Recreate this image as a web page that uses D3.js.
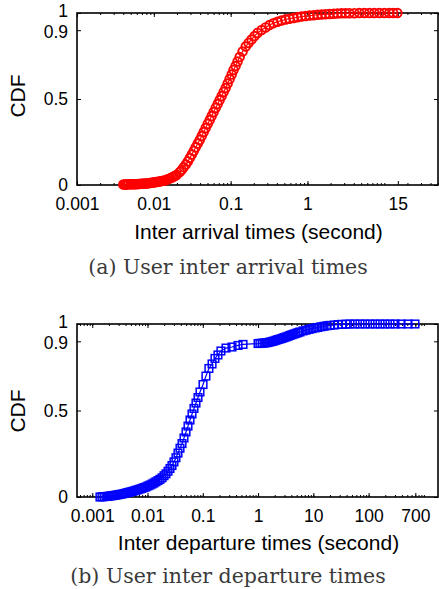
<!DOCTYPE html>
<html>
<head>
<meta charset="utf-8">
<script src="https://cdn.jsdelivr.net/npm/d3@7"></script>
<style>
  body { margin: 0; background: #fff; }
  .tick text { font-family: "Liberation Sans", Arial, sans-serif; font-size: 17.5px; fill: #000; }
  .lbl { font-family: "Liberation Sans", Arial, sans-serif; font-size: 21px; fill: #000; }
  .cap { font-family: "DejaVu Serif", serif; font-size: 20.5px; fill: #3a3a3a; }
</style>
</head>
<body>
<div id="fig"></div>
<script>
// values

// (a) inter arrival times
var arrivalTime = [0.0040,0.0042,0.0043,0.0045,0.0047,0.0050,0.0052,0.0055,0.0057,0.0060,0.0062,0.0065,0.0068,0.0071,0.0074,0.0078,0.0081,0.0085,0.0089,0.0093,0.0097,
  0.0101,0.0106,0.0111,0.0116,0.0121,0.0127,0.0133,0.0139,0.0145,0.0152,0.0159,0.0166,0.0174,0.0182,0.0190,0.0199,
  0.0218,0.0231,0.0245,0.0261,0.0277,0.0294,0.0312,0.0331,0.0351,0.0373,0.0396,
  0.0420,0.0446,0.0473,0.0502,0.0534,0.0566,0.0601,0.0638,0.0678,0.0719,0.0764,0.0811,0.0861,0.0914,0.0970,
  0.103,0.109,0.116,0.123,0.131,0.143,0.157,0.171,0.187,0.205,0.224,0.253,0.285,0.321,0.361,0.407,0.459,0.518,0.583,0.658,0.741,0.835,0.942,
  1.06,1.20,1.35,1.52,1.71,1.93,2.18,2.45,2.77,3.12,3.51,4.07,4.73,5.50,6.38,7.41,8.60,10.0,11.6,13.1,14.8];
var arrivalCdf = [0.003,0.003,0.003,0.003,0.004,0.004,0.004,0.004,0.005,0.005,0.006,0.006,0.007,0.007,0.008,0.008,0.009,0.010,0.012,0.013,0.014,
  0.015,0.017,0.018,0.020,0.021,0.023,0.024,0.026,0.029,0.033,0.037,0.041,0.045,0.049,0.054,0.059,
  0.076,0.088,0.103,0.119,0.137,0.157,0.177,0.198,0.219,0.241,0.262,
  0.285,0.308,0.331,0.355,0.378,0.401,0.424,0.448,0.471,0.494,0.517,0.541,0.564,0.590,0.616,
  0.642,0.669,0.692,0.718,0.744,0.776,0.805,0.826,0.846,0.866,0.884,0.901,0.916,0.930,0.941,0.949,0.956,0.962,0.967,0.971,0.975,0.979,0.982,
  0.985,0.987,0.990,0.991,0.993,0.994,0.995,0.997,0.998,0.998,0.999,0.999,1,1,1,1,1,1,1,1,1];

// (b) inter departure times
var departureTime = [0.00138,0.00150,0.00163,0.00177,0.00193,0.00210,0.00228,0.00247,0.00269,0.00292,0.00318,0.00345,
  0.00375,0.00408,0.00443,0.00482,0.00524,0.00569,0.00619,0.00673,0.00731,0.00794,0.00863,0.00938,
  0.0102,0.0111,0.0121,0.0131,0.0142,0.0155,0.0168,0.0183,0.0199,0.0216,0.0235,0.0255,0.0277,0.0301,
  0.0327,0.0356,0.0387,0.0421,0.0457,0.0497,0.0540,0.0587,0.0638,0.0693,0.0753,0.0819,0.0890,
  0.101,0.114,0.129,0.147,0.166,0.188,0.213,0.263,0.338,0.434,0.534,
  1.00,1.08,1.18,1.28,1.39,1.51,1.64,1.79,1.94,2.11,2.29,2.49,2.71,2.94,3.20,3.48,3.78,4.11,4.47,4.86,5.28,5.74,
  6.50,7.36,8.35,9.46,10.7,12.1,13.8,15.6,17.7,20.0,
  23.7,27.9,33.0,39.0,46.0,
  56.7,69.8,86.1,106,131,161,198,244,300,386,516,690];
var departureCdf = [0.000,0.001,0.002,0.003,0.004,0.006,0.007,0.009,0.011,0.013,0.015,0.017,
  0.020,0.023,0.026,0.029,0.032,0.035,0.039,0.042,0.046,0.050,0.054,0.058,
  0.064,0.069,0.075,0.081,0.088,0.095,0.102,0.111,0.123,0.134,0.149,0.165,0.182,0.203,
  0.227,0.254,0.282,0.309,0.341,0.376,0.410,0.445,0.480,0.512,0.543,0.575,0.607,
  0.650,0.699,0.743,0.769,0.801,0.821,0.844,0.861,0.867,0.876,0.882,
  0.887,0.888,0.889,0.890,0.891,0.893,0.896,0.899,0.902,0.906,0.910,0.913,0.917,0.921,0.925,0.929,0.934,0.938,0.942,0.946,0.950,0.954,
  0.960,0.964,0.969,0.973,0.977,0.980,0.984,0.987,0.990,0.992,
  0.994,0.997,0.998,0.999,1,
  1,1,1,1,1,1,1,1,1,1,1,1];

// ticks
var arrivalTicks = [0.001, 0.01, 0.1, 1, 15];
var arrivalTickLabels = ["0.001", "0.01", "0.1", "1", "15"];
var departureTicks = [0.001, 0.01, 0.1, 1, 10, 100, 700];
var departureTickLabels = ["0.001", "0.01", "0.1", "1", "10", "100", "700"];
var cdfTicks = [0, 0.5, 0.9, 1];
var cdfTickLabels = ["0", "0.5", "0.9", "1"];

var width = 439, height = 589;

var svg = d3.select("#fig").append("svg")
  .attr("width", width)
  .attr("height", height);

// draws one panel of the figure
function drawPanel(p) {
  var xScale = d3.scaleLog().domain(p.xDomain).range([p.left, p.right]);
  var yScale = d3.scaleLinear().domain([0, 1]).range([p.bottom, p.top]);
  var g = svg.append("g");

  // minor log ticks, top and bottom
  var minor = xScale.ticks();
  g.append("g").attr("transform", "translate(0," + p.bottom + ")")
    .call(d3.axisBottom(xScale).tickValues(minor).tickFormat("").tickSizeInner(-2).tickSizeOuter(0));
  g.append("g").attr("transform", "translate(0," + p.top + ")")
    .call(d3.axisTop(xScale).tickValues(minor).tickFormat("").tickSizeInner(-2).tickSizeOuter(0));

  // major ticks
  g.append("g").attr("transform", "translate(0," + p.bottom + ")")
    .call(d3.axisBottom(xScale).tickValues(p.xTicks)
      .tickFormat(function(d, i) { return p.xLabels[i]; })
      .tickSizeInner(-4).tickSizeOuter(0).tickPadding(13));
  g.append("g").attr("transform", "translate(0," + p.top + ")")
    .call(d3.axisTop(xScale).tickValues(p.xTicks).tickFormat("").tickSizeInner(-4).tickSizeOuter(0));
  var yAx = g.append("g").attr("transform", "translate(" + p.left + ",0)")
    .call(d3.axisLeft(yScale).tickValues(cdfTicks)
      .tickFormat(function(d, i) { return cdfTickLabels[i]; })
      .tickSizeInner(-4).tickSizeOuter(0).tickPadding(9));
  // "1" and "0.9" sit close together, nudge them apart like the original
  yAx.selectAll(".tick text")
    .attr("dy", function(d) { return d === 1 ? "0.2em" : d === 0.9 ? "0.4em" : "0.32em"; });
  g.append("g").attr("transform", "translate(" + p.right + ",0)")
    .call(d3.axisRight(yScale).tickValues(cdfTicks).tickFormat("").tickSizeInner(-4).tickSizeOuter(0));

  g.selectAll(".domain").remove();
  g.selectAll(".tick line").attr("stroke", "#000").attr("stroke-width", 1);

  // box
  g.append("rect")
    .attr("x", p.left).attr("y", p.top)
    .attr("width", p.right - p.left).attr("height", p.bottom - p.top)
    .attr("fill", "none").attr("stroke", "#000").attr("stroke-width", 1.6);

  var pts = p.xs.map(function(x, i) { return [x, p.ys[i]]; });

  g.append("path")
    .datum(pts)
    .attr("fill", "none")
    .attr("stroke", p.color)
    .attr("stroke-width", 1.2)
    .attr("d", d3.line()
      .x(function(d) { return xScale(d[0]); })
      .y(function(d) { return yScale(d[1]); }));

  if (p.marker === "circle") {
    g.selectAll("circle.pt").data(pts).enter().append("circle")
      .attr("class", "pt")
      .attr("cx", function(d) { return xScale(d[0]); })
      .attr("cy", function(d) { return yScale(d[1]); })
      .attr("r", 4.3)
      .attr("fill", "none").attr("stroke", p.color).attr("stroke-width", 1.9);
  } else {
    g.selectAll("rect.pt").data(pts).enter().append("rect")
      .attr("class", "pt")
      .attr("x", function(d) { return xScale(d[0]) - 3.8; })
      .attr("y", function(d) { return yScale(d[1]) - 3.8; })
      .attr("width", 7.6).attr("height", 7.6)
      .attr("fill", "none").attr("stroke", p.color).attr("stroke-width", 1.5);
  }

  // axis labels
  g.append("text").attr("class", "lbl")
    .attr("text-anchor", "middle")
    .attr("transform", "translate(18," + p.labelY + ")rotate(-90)")
    .attr("dy", "0.35em")
    .text("CDF");
  g.append("text").attr("class", "lbl")
    .attr("text-anchor", "middle")
    .attr("x", (p.left + p.right) / 2 + 1)
    .attr("y", p.titleY)
    .attr("dy", "0.35em")
    .text(p.title);
  g.append("text").attr("class", "cap")
    .attr("text-anchor", "middle")
    .attr("x", 228)
    .attr("y", p.captionY)
    .attr("dy", "0.35em")
    .text(p.caption);
}

drawPanel({
  left: 77, right: 438, top: 13, bottom: 185,
  xDomain: [0.001, 50],
  xTicks: arrivalTicks, xLabels: arrivalTickLabels,
  xs: arrivalTime, ys: arrivalCdf,
  color: "#ff0000", marker: "circle",
  labelY: 96,
  title: "Inter arrival times (second)", titleY: 232,
  caption: "(a) User inter arrival times", captionY: 267
});

drawPanel({
  left: 77, right: 438, top: 324, bottom: 497,
  xDomain: [0.00053, 1800],
  xTicks: departureTicks, xLabels: departureTickLabels,
  xs: departureTime, ys: departureCdf,
  color: "#0000ff", marker: "square",
  labelY: 411,
  title: "Inter departure times (second)", titleY: 543,
  caption: "(b) User inter departure times", captionY: 576
});
</script>
</body>
</html>
